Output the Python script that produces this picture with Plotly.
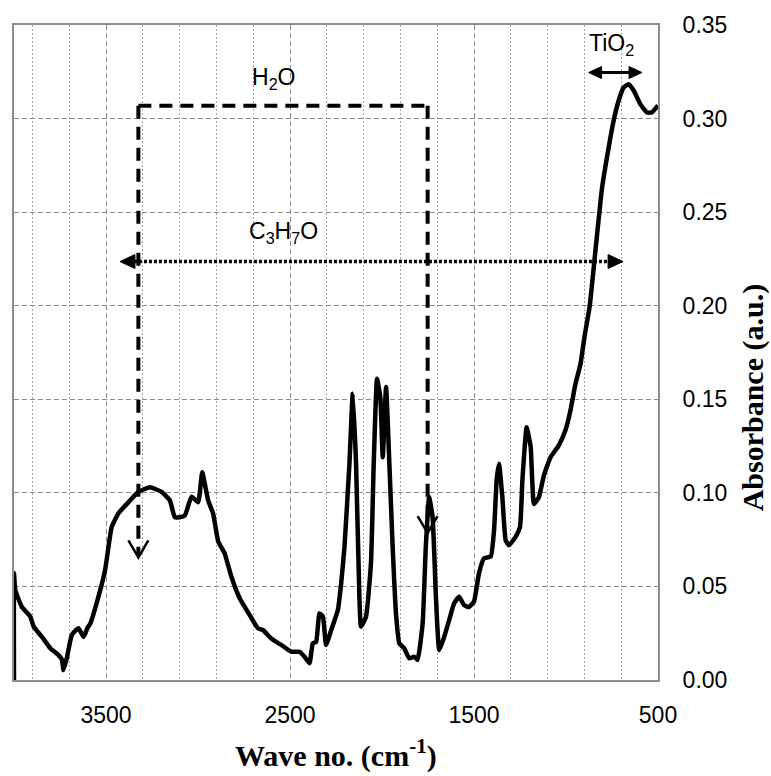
import plotly.graph_objects as go

# FTIR absorbance spectrum (wave number in cm^-1, absorbance in a.u.)
wave_no = [
    4000, 4000, 3993, 3957, 3912, 3893, 3848, 3803, 3758, 3740, 3731, 3713, 3686,
    3660, 3649, 3622, 3600, 3586, 3541, 3505, 3469, 3433, 3378, 3324, 3261, 3198,
    3153, 3126, 3100, 3071, 3035, 2999, 2977, 2945, 2918, 2890, 2855, 2818, 2773,
    2719, 2674, 2647, 2602, 2547, 2493, 2448, 2421, 2394, 2376, 2358, 2340, 2321,
    2304, 2276, 2240, 2222, 2204, 2177, 2159, 2141, 2123, 2114, 2087, 2060, 2045,
    2027, 2009, 1996, 1978, 1960, 1942, 1924, 1906, 1879, 1852, 1825, 1807, 1779,
    1762, 1744, 1725, 1707, 1689, 1662, 1635, 1608, 1581, 1554, 1527, 1500, 1473,
    1446, 1409, 1391, 1377, 1364, 1346, 1328, 1310, 1274, 1250, 1237, 1214, 1192,
    1174, 1147, 1120, 1084, 1039, 1003, 976, 949, 921, 900, 871, 840, 804, 768,
    741, 714, 687, 660, 632, 596, 560, 533, 500,
]
absorbance = [
    0.000, 0.057, 0.048, 0.039, 0.034, 0.0285, 0.023, 0.017, 0.0133, 0.011, 0.0053,
    0.0117, 0.024, 0.027, 0.0277, 0.023, 0.028, 0.030, 0.0445, 0.0587, 0.0818,
    0.089, 0.095, 0.1005, 0.103, 0.1005, 0.096, 0.087, 0.087, 0.088, 0.098, 0.095,
    0.111, 0.096, 0.089, 0.074, 0.0676, 0.055, 0.0436, 0.0347, 0.0276, 0.0267,
    0.0222, 0.0187, 0.0151, 0.0151, 0.0124, 0.0089, 0.0196, 0.0204, 0.0356, 0.0338,
    0.0187, 0.0267, 0.0374, 0.0516, 0.071, 0.1156, 0.153, 0.1156, 0.0445, 0.0285,
    0.0338, 0.0623, 0.1156, 0.161, 0.151, 0.119, 0.1565, 0.1156, 0.071, 0.0356,
    0.0196, 0.0169, 0.0116, 0.0124, 0.0107, 0.0303, 0.071, 0.0978, 0.087, 0.0445,
    0.016, 0.023, 0.032, 0.041, 0.0445, 0.040, 0.039, 0.042, 0.057, 0.065, 0.066,
    0.080, 0.1067, 0.1156, 0.0978, 0.0747, 0.072, 0.0765, 0.0818, 0.1067, 0.135,
    0.1245, 0.094, 0.0978, 0.1094, 0.119, 0.1254, 0.1334, 0.144, 0.158, 0.169,
    0.183, 0.200, 0.2295, 0.263, 0.2846, 0.299, 0.3095, 0.3166, 0.3184, 0.315,
    0.3077, 0.3033, 0.3033, 0.307,
]

# Band assignment markers (wave number / absorbance positions)
h2o_left, h2o_right, h2o_top = 3324, 1752, 0.3068
h2o_left_tip, h2o_right_tip = 0.0655, 0.0785
c3h7o_left, c3h7o_right, c3h7o_y = 3424, 690, 0.2236
tio2_left, tio2_right, tio2_y = 877, 587, 0.3246

X_RANGE = [4000, 500]
Y_RANGE = [0, 0.35]
W, H = 771, 776
ML, MR, MT, MB = 12, 113, 24, 96

# data units per pixel (x axis is reversed)
ux = (X_RANGE[0] - X_RANGE[1]) / (W - ML - MR)
uy = (Y_RANGE[1] - Y_RANGE[0]) / (H - MT - MB)

fig = go.Figure()
fig.add_trace(go.Scatter(
    x=wave_no, y=absorbance, mode="lines",
    line=dict(color="black", width=4.5, shape="spline", smoothing=0.4),
    hoverinfo="skip",
))

shapes = []


def seg(x0, y0, x1, y1, width, dash="solid"):
    shapes.append(dict(type="line", xref="x", yref="y", x0=x0, y0=y0, x1=x1, y1=y1,
                       line=dict(color="black", width=width, dash=dash), layer="above"))


def path(points, width, fill=None):
    d = "M" + " L".join(f"{px},{py}" for px, py in points)
    if fill:
        d += " Z"
    shapes.append(dict(type="path", xref="x", yref="y", path=d,
                       line=dict(color="black", width=width),
                       fillcolor=fill if fill else "rgba(0,0,0,0)", layer="above"))


def open_down_arrow(x, y):
    # open "V" arrowhead pointing down with its tip at (x, y)
    path([(x + 10 * ux, y + 17 * uy), (x, y), (x - 10 * ux, y + 17 * uy)], 2.5)


def tri(x, y, direction, length=15, half=7):
    # filled triangle; direction = -1 points left (higher wave no.), +1 points right
    base = x + direction * length * ux
    path([(x, y), (base, y + half * uy), (base, y - half * uy)], 1, fill="black")


# H2O bracket (dashed) with open arrowheads
dash_style = "13px,8px"
seg(h2o_left, h2o_top, h2o_right, h2o_top, 4, dash_style)
seg(h2o_left, h2o_top, h2o_left, h2o_left_tip + 2 * uy, 4, dash_style)
seg(h2o_right, h2o_top, h2o_right, h2o_right_tip + 2 * uy, 4, dash_style)
open_down_arrow(h2o_left, h2o_left_tip)
open_down_arrow(h2o_right, h2o_right_tip)

# C3H7O range (dotted) with filled arrowheads
seg(c3h7o_left - 14 * ux, c3h7o_y, c3h7o_right + 14 * ux, c3h7o_y, 3.5, "3px,2px")
tri(c3h7o_left, c3h7o_y, -1)
tri(c3h7o_right, c3h7o_y, 1)

# TiO2 range (solid double arrow)
seg(tio2_left - 10 * ux, tio2_y, tio2_right + 10 * ux, tio2_y, 3)
tri(tio2_left, tio2_y, -1, length=13, half=6)
tri(tio2_right, tio2_y, 1, length=13, half=6)

label_font = dict(family="Liberation Sans, Arial", size=23, color="black")
title_font = dict(family="Liberation Serif, Times New Roman", size=30, color="black")
tick_font = dict(family="Liberation Sans, Arial", size=23, color="black")

annotations = [
    dict(x=2591, y=0.3215, xref="x", yref="y", text="H<sub>2</sub>O", showarrow=False,
         font=label_font, xanchor="center", yanchor="middle"),
    dict(x=2537, y=0.2390, xref="x", yref="y", text="C<sub>3</sub>H<sub>7</sub>O",
         showarrow=False, font=label_font, xanchor="center", yanchor="middle"),
    dict(x=754, y=0.3395, xref="x", yref="y", text="TiO<sub>2</sub>", showarrow=False,
         font=label_font, xanchor="center", yanchor="middle"),
    dict(x=0.5, y=-0.112, xref="paper", yref="paper",
         text="<b>Wave no. (cm<sup>-1</sup>)</b>", showarrow=False, font=title_font,
         xanchor="center", yanchor="middle"),
    dict(x=1.148, y=0.432, xref="paper", yref="paper", text="<b>Absorbance (a.u.)</b>",
         showarrow=False, font=title_font, textangle=-90,
         xanchor="center", yanchor="middle"),
]

grid_color = "#8c8c8c"
fig.update_layout(
    width=W, height=H,
    margin=dict(l=ML, r=MR, t=MT, b=MB),
    paper_bgcolor="white", plot_bgcolor="white",
    showlegend=False,
    shapes=shapes,
    annotations=annotations,
    xaxis=dict(
        range=X_RANGE, tickmode="linear", tick0=500, dtick=1000,
        showgrid=True, gridcolor=grid_color, gridwidth=1, griddash="5px,3px",
        minor=dict(tickmode="linear", tick0=500, dtick=200, showgrid=True,
                   gridcolor="#a6a6a6", gridwidth=1, griddash="2px,2px"),
        showline=True, linecolor=grid_color, linewidth=2, mirror=True,
        ticks="", zeroline=False, ticklabelstandoff=13,
        tickfont=tick_font,
    ),
    yaxis=dict(
        range=Y_RANGE, side="right", tickmode="linear", tick0=0, dtick=0.05,
        tickformat=".2f",
        showgrid=True, gridcolor=grid_color, gridwidth=1, griddash="5px,3px",
        showline=True, linecolor=grid_color, linewidth=2, mirror=True,
        ticks="", zeroline=False, ticklabelstandoff=18,
        tickfont=tick_font,
    ),
)

fig.write_html("out.html")
